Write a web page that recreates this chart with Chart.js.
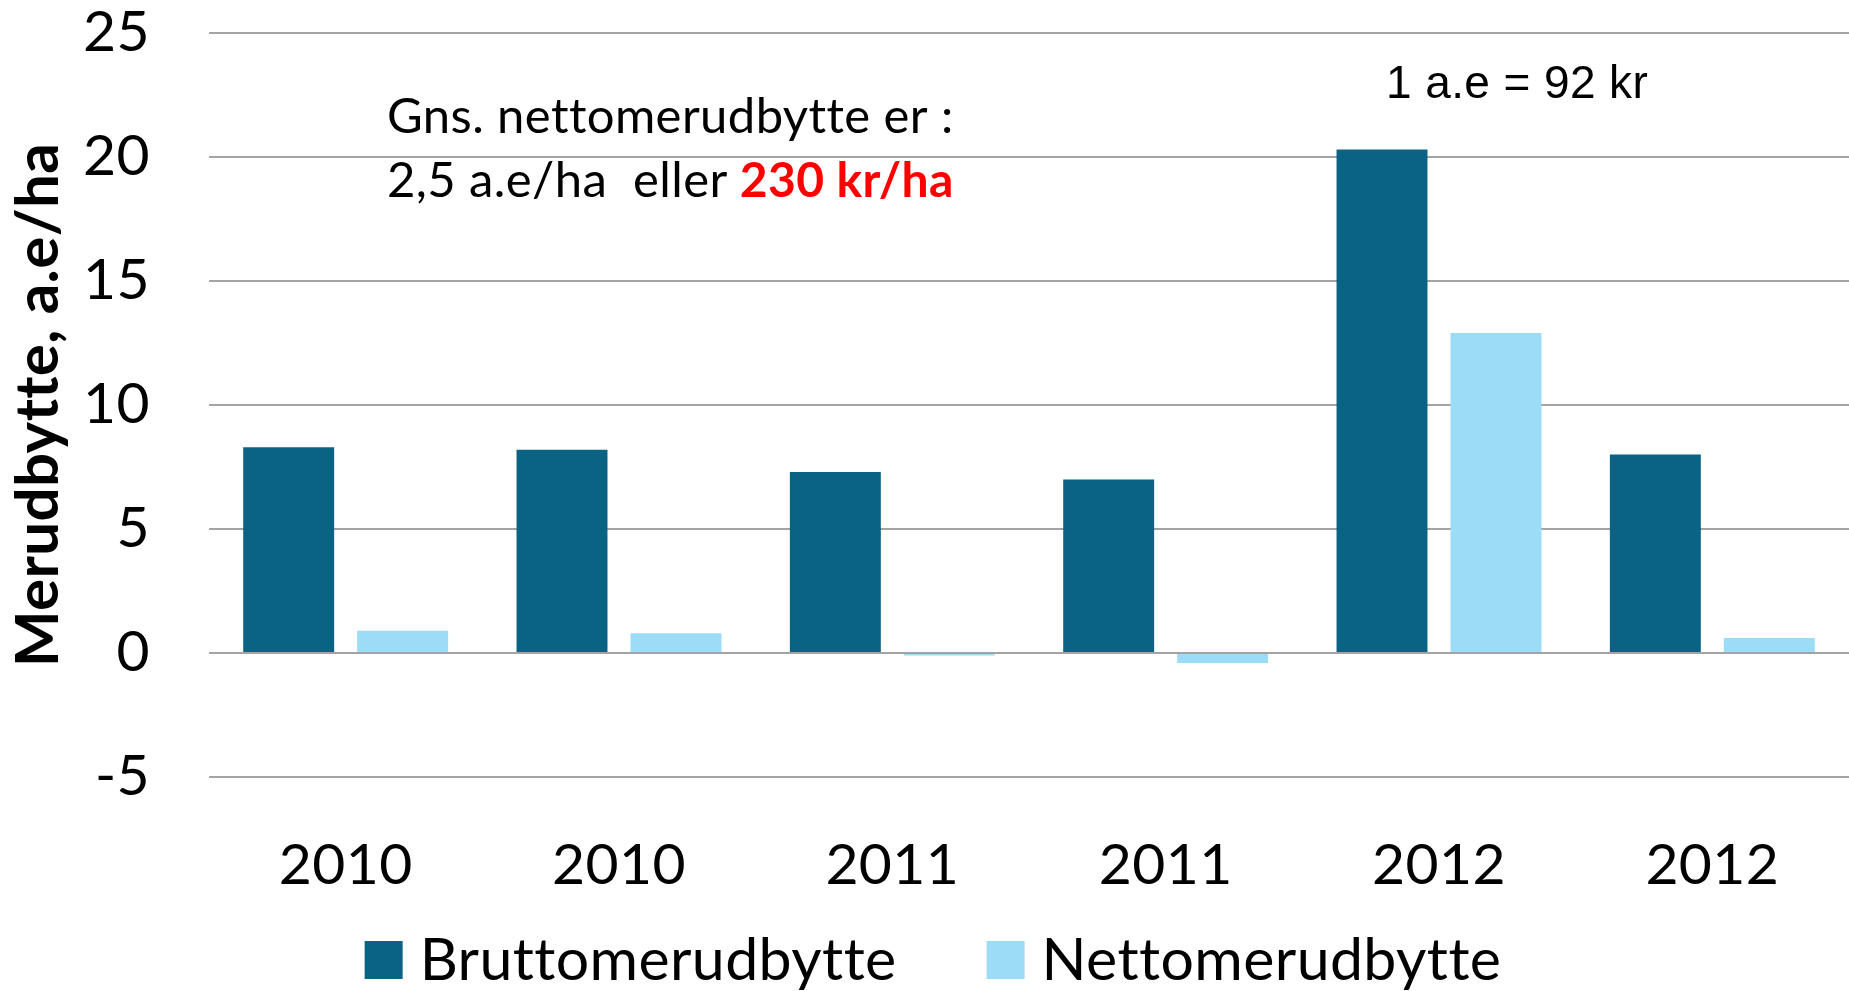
<!DOCTYPE html>
<html>
<head>
<meta charset="utf-8">
<script src="https://cdn.jsdelivr.net/npm/chart.js@4/dist/chart.umd.min.js"></script>
<style>
  html, body { margin: 0; padding: 0; background: #ffffff; }
  #wrap { width: 1849px; height: 991px; position: relative; }
</style>
</head>
<body>
<div id="wrap"><canvas id="c" width="1849" height="991"></canvas></div>
<script>
const categories = ['2010', '2010', '2011', '2011', '2012', '2012'];
const bruttoValues = [8.3, 8.2, 7.3, 7.0, 20.3, 8.0];
const nettoValues = [0.9, 0.8, -0.1, -0.4, 12.9, 0.6];
const seriesNames = ['Bruttomerudbytte', 'Nettomerudbytte'];
const yTicks = [-5, 0, 5, 10, 15, 20, 25];
const yTitle = 'Merudbytte, a.e/ha';
const noteLine1 = 'Gns. nettomerudbytte er :';
const noteLine2a = '2,5 a.e/ha  eller ';
const noteLine2b = '230 kr/ha';
const noteRate = '1 a.e = 92 kr';

const FONT = 'Lato';
const colors = ['#0A6383', '#9DDCF6'];

function noLig(ctx) { try { ctx.letterSpacing = '0.4px'; } catch (e) {} }

const annotationPlugin = {
  id: 'notes',
  beforeLayout(chart) { noLig(chart.ctx); },
  beforeDraw(chart) { noLig(chart.ctx); },
  afterDraw(chart) {
    const ctx = chart.ctx;
    ctx.save();
    noLig(ctx);
    ctx.textBaseline = 'alphabetic';
    ctx.textAlign = 'left';
    ctx.fillStyle = '#000000';
    ctx.font = '49px ' + FONT;
    ctx.fillText(noteLine1, 387, 133);
    ctx.fillText(noteLine2a, 387, 197);
    const w2 = ctx.measureText(noteLine2a).width;
    ctx.fillStyle = '#FF0000';
    ctx.font = 'bold 48px ' + FONT;
    ctx.fillText(noteLine2b, 386 + w2, 197);
    ctx.fillStyle = '#000000';
    ctx.font = '46px "Liberation Sans", Arial, sans-serif';
    ctx.fillText(noteRate, 1386, 98);

    // legend
    const ds = chart.data.datasets;
    ctx.font = '59px ' + FONT;
    const box = 38, gapText = 17, gapItem = 90;
    let total = 0;
    const widths = ds.map(d => ctx.measureText(d.label).width);
    widths.forEach((w, i) => { total += box + gapText + w + (i < ds.length - 1 ? gapItem : 0); });
    let x = 933 - total / 2;
    ds.forEach((d, i) => {
      ctx.fillStyle = d.backgroundColor;
      ctx.fillRect(x, 941, box, box);
      ctx.fillStyle = '#000000';
      ctx.fillText(d.label, x + box + gapText, 980);
      x += box + gapText + widths[i] + gapItem;
    });
    ctx.restore();
  }
};

new Chart(document.getElementById('c'), {
  type: 'bar',
  data: {
    labels: categories,
    datasets: [
      { label: seriesNames[0], data: bruttoValues, backgroundColor: colors[0] },
      { label: seriesNames[1], data: nettoValues, backgroundColor: colors[1] }
    ]
  },
  options: {
    responsive: false,
    animation: false,
    devicePixelRatio: 1,
    layout: { padding: { top: 33, left: 0, right: 0, bottom: 0 } },
    datasets: { bar: { categoryPercentage: 0.834, barPercentage: 0.798 } },
    plugins: { legend: { display: false }, tooltip: { enabled: false } },
    scales: {
      x: {
        grid: { display: false },
        border: { display: false },
        ticks: { color: '#000000', font: { family: FONT, size: 57, lineHeight: 1.2 }, padding: 46, maxRotation: 0, autoSkip: false },
        afterFit(scale) { scale.height = 214; }
      },
      y: {
        min: -5, max: 25,
        afterBuildTicks(scale) { scale.ticks = yTicks.map(v => ({ value: v })); },
        grid: { color: '#A3A3A3', lineWidth: 2, drawTicks: true, tickLength: 57, tickColor: 'rgba(0,0,0,0)' },
        border: { display: false },
        ticks: { color: '#000000', font: { family: FONT, size: 57, lineHeight: 1.0 }, padding: 2 },
        title: { display: true, text: yTitle, color: '#000000', font: { family: FONT, size: 60, weight: 'bold', lineHeight: 1.0 }, padding: { top: 9, bottom: 0 } },
        afterFit(scale) { scale.width = 209; }
      }
    }
  },
  plugins: [annotationPlugin]
});
</script>
</body>
</html>
